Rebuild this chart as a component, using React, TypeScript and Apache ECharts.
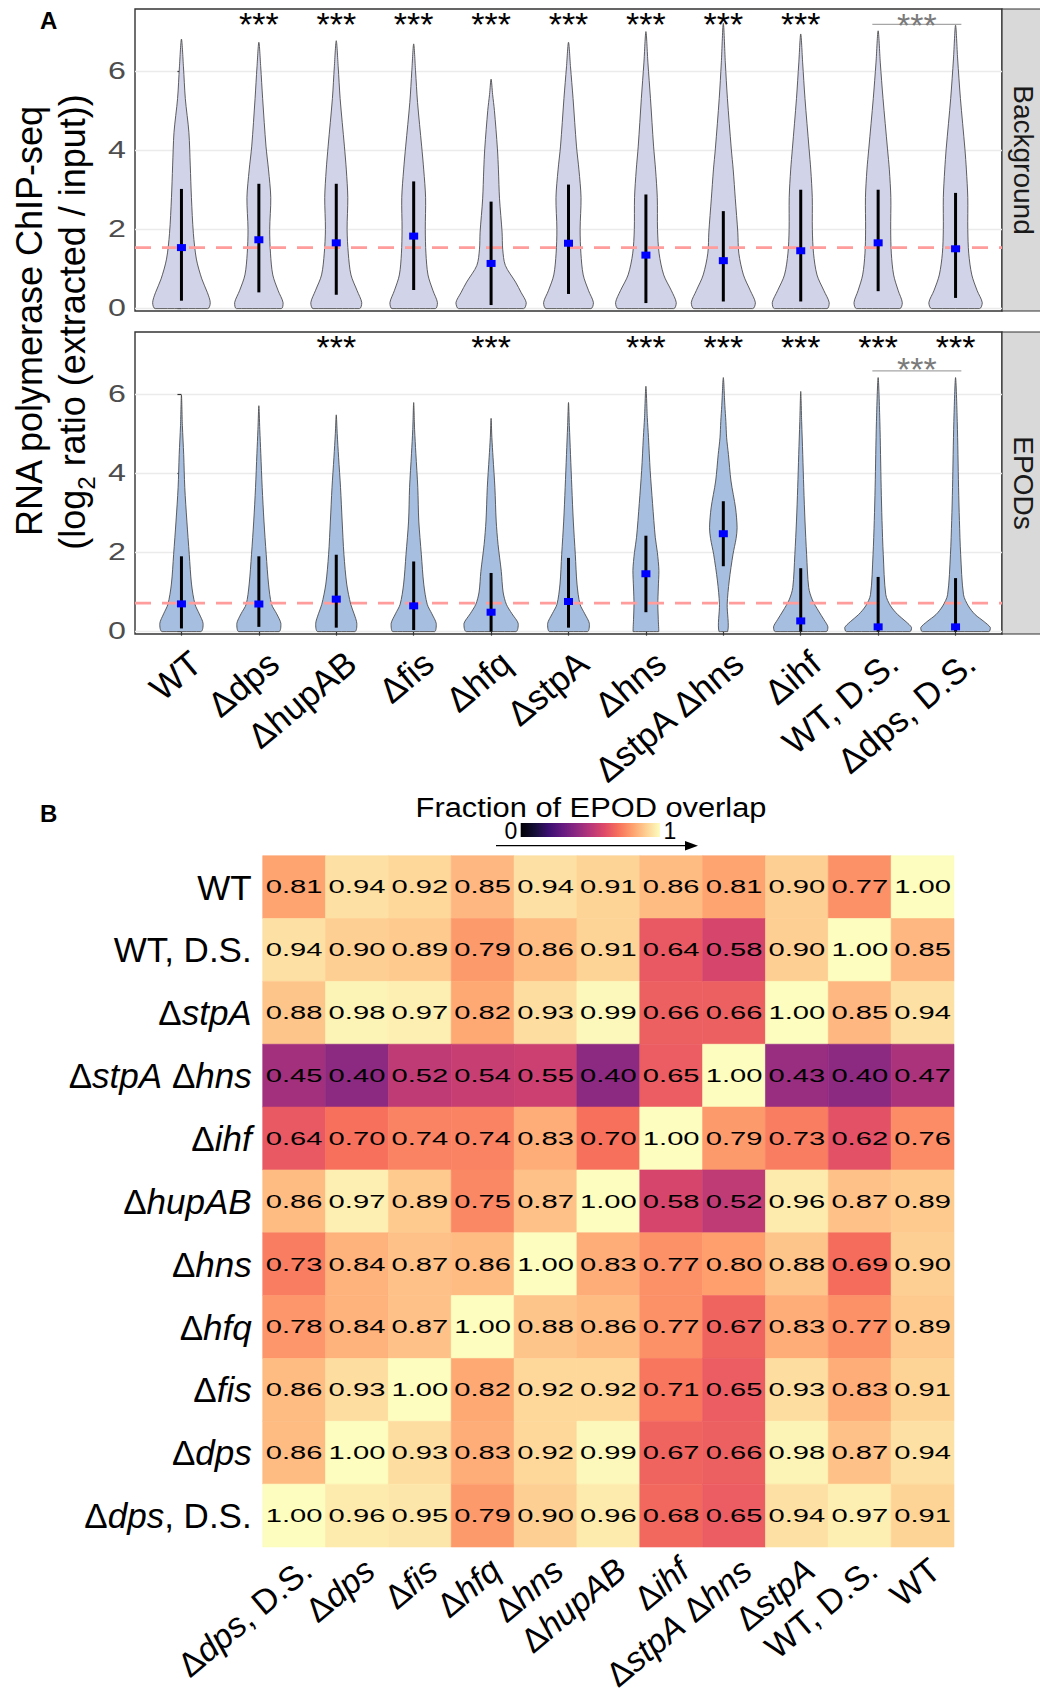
import React, { useEffect, useRef } from 'react';
import * as echarts from 'echarts';

// ---------------- DATA ----------------
const strains = ['WT', 'Δdps', 'ΔhupAB', 'Δfis', 'Δhfq', 'ΔstpA', 'Δhns', 'ΔstpA Δhns', 'Δihf', 'WT, D.S.', 'Δdps, D.S.'];
const facetNames = ['Background', 'EPODs'];
const yTicks = [0, 2, 4, 6];

// violin outlines: [log2 ratio, half width in category units]
const bgViolins = [
  [[0, 0.34], [0.15, 0.372], [0.4, 0.336], [0.75, 0.263], [1.25, 0.193], [1.9, 0.154], [2.8, 0.129], [3.6, 0.114], [4.45, 0.096], [5.3, 0.05], [6.1, 0.026], [6.8, 0]],
  [[0, 0.29], [0.15, 0.313], [0.45, 0.25], [0.85, 0.18], [1.4, 0.15], [2.0, 0.14], [2.8, 0.154], [3.5, 0.125], [4.1, 0.092], [5.3, 0.049], [6.1, 0.024], [6.72, 0]],
  [[0, 0.3], [0.15, 0.329], [0.45, 0.27], [0.85, 0.19], [1.4, 0.155], [2.0, 0.14], [2.8, 0.149], [3.5, 0.13], [4.1, 0.105], [5.3, 0.05], [6.1, 0.025], [6.76, 0]],
  [[0, 0.28], [0.15, 0.307], [0.45, 0.25], [0.85, 0.185], [1.4, 0.158], [2.0, 0.15], [2.8, 0.154], [3.5, 0.13], [4.1, 0.103], [5.2, 0.05], [6.0, 0.024], [6.68, 0]],
  [[0, 0.42], [0.15, 0.454], [0.4, 0.39], [0.67, 0.316], [1.09, 0.184], [1.5, 0.15], [1.93, 0.142], [2.77, 0.109], [3.5, 0.095], [4.03, 0.082], [5.0, 0.043], [5.4, 0.02], [5.79, 0]],
  [[0, 0.29], [0.15, 0.322], [0.45, 0.26], [0.85, 0.19], [1.4, 0.16], [2.0, 0.15], [2.8, 0.162], [3.5, 0.135], [4.1, 0.103], [5.3, 0.059], [6.1, 0.026], [6.72, 0]],
  [[0, 0.36], [0.15, 0.392], [0.45, 0.33], [0.85, 0.23], [1.4, 0.17], [2.0, 0.15], [2.8, 0.147], [3.5, 0.125], [4.1, 0.099], [5.3, 0.059], [6.2, 0.026], [6.99, 0]],
  [[0, 0.38], [0.15, 0.414], [0.45, 0.35], [0.85, 0.26], [1.4, 0.2], [1.93, 0.187], [2.77, 0.155], [3.5, 0.128], [4.03, 0.103], [5.3, 0.053], [6.2, 0.026], [7.2, 0]],
  [[0, 0.34], [0.15, 0.368], [0.45, 0.3], [0.85, 0.21], [1.4, 0.165], [2.0, 0.15], [2.8, 0.149], [3.5, 0.13], [4.03, 0.108], [5.3, 0.055], [6.2, 0.025], [6.93, 0]],
  [[0, 0.28], [0.15, 0.312], [0.45, 0.26], [0.85, 0.2], [1.4, 0.17], [2.0, 0.162], [2.8, 0.164], [3.5, 0.145], [4.03, 0.121], [5.3, 0.063], [6.2, 0.028], [7.01, 0]],
  [[0, 0.31], [0.15, 0.345], [0.45, 0.28], [0.85, 0.21], [1.4, 0.17], [2.0, 0.158], [2.8, 0.158], [3.5, 0.14], [4.03, 0.121], [5.3, 0.063], [6.3, 0.027], [7.15, 0]],
];
const epViolins = [
  [[0, 0.25], [0.2, 0.28], [0.45, 0.23], [0.69, 0.175], [1.2, 0.13], [1.95, 0.101], [2.79, 0.07], [3.64, 0.043], [4.47, 0.029], [5.2, 0.012], [5.97, 0]],
  [[0, 0.26], [0.2, 0.285], [0.45, 0.23], [0.69, 0.164], [1.2, 0.125], [1.95, 0.095], [2.79, 0.066], [3.64, 0.043], [4.5, 0.025], [5.1, 0.012], [5.7, 0]],
  [[0, 0.24], [0.2, 0.266], [0.45, 0.23], [0.69, 0.187], [1.2, 0.135], [1.95, 0.099], [2.79, 0.076], [3.64, 0.055], [4.4, 0.03], [5.0, 0.012], [5.47, 0]],
  [[0, 0.27], [0.2, 0.292], [0.45, 0.235], [0.69, 0.175], [1.2, 0.13], [1.95, 0.099], [2.79, 0.066], [3.64, 0.053], [4.5, 0.028], [5.1, 0.012], [5.78, 0]],
  [[0, 0.32], [0.2, 0.351], [0.45, 0.27], [0.69, 0.197], [1.0, 0.155], [1.52, 0.132], [2.2, 0.09], [2.79, 0.066], [3.64, 0.049], [4.4, 0.025], [4.9, 0.01], [5.38, 0]],
  [[0, 0.245], [0.2, 0.27], [0.45, 0.21], [0.69, 0.149], [1.2, 0.11], [1.95, 0.088], [2.79, 0.062], [3.64, 0.043], [4.47, 0.026], [5.2, 0.011], [5.78, 0]],
  [[0, 0.165], [0.3, 0.16], [0.69, 0.154], [1.1, 0.16], [1.54, 0.168], [2.0, 0.148], [2.38, 0.121], [3.23, 0.086], [4.07, 0.055], [4.9, 0.033], [5.4, 0.018], [6.19, 0]],
  [[0, 0.055], [0.69, 0.05], [1.28, 0.076], [1.95, 0.125], [2.35, 0.165], [2.62, 0.178], [3.12, 0.158], [3.8, 0.099], [4.47, 0.066], [4.89, 0.043], [5.3, 0.033], [5.7, 0.02], [6.41, 0]],
  [[0, 0.33], [0.12, 0.351], [0.3, 0.3], [0.52, 0.23], [0.8, 0.15], [1.11, 0.103], [1.95, 0.076], [2.79, 0.055], [3.64, 0.039], [4.47, 0.026], [5.3, 0.012], [6.06, 0]],
  [[0, 0.41], [0.1, 0.432], [0.25, 0.36], [0.43, 0.253], [0.65, 0.16], [0.93, 0.099], [1.95, 0.066], [2.8, 0.05], [3.64, 0.039], [5.3, 0.022], [6.41, 0]],
  [[0, 0.43], [0.1, 0.45], [0.25, 0.37], [0.43, 0.253], [0.65, 0.165], [0.93, 0.103], [1.95, 0.066], [2.8, 0.05], [3.64, 0.039], [5.3, 0.022], [6.41, 0]],
];

const bgMean = [1.54, 1.74, 1.66, 1.83, 1.14, 1.65, 1.35, 1.21, 1.46, 1.66, 1.51];
const bgHigh = [3.02, 3.15, 3.15, 3.21, 2.70, 3.13, 2.88, 2.46, 3.00, 3.00, 2.92];
const bgLow = [0.20, 0.41, 0.35, 0.47, 0.09, 0.37, 0.14, 0.18, 0.18, 0.44, 0.27];
const epMean = [0.70, 0.70, 0.82, 0.65, 0.49, 0.76, 1.46, 2.47, 0.27, 0.12, 0.12];
const epHigh = [1.90, 1.90, 1.94, 1.77, 1.48, 1.86, 2.42, 3.29, 1.60, 1.38, 1.35];
const epLow = [0.08, 0.12, 0.10, 0.04, 0.0, 0.10, 0.49, 1.65, 0.0, 0.0, 0.0];

const refLines = [1.54, 0.72];
const bgSig = [0, 1, 1, 1, 1, 1, 1, 1, 1, 0, 0];
const epSig = [0, 0, 1, 0, 1, 0, 1, 1, 1, 1, 1];
const sigLevel = 7.18;
const pairIdx = [9, 10];
const pairLineY = [7.17, 6.58];
const pairStarY = [7.16, 6.62];
const sigText = '***';

const heatRows = ['WT', 'WT, D.S.', 'ΔstpA', 'ΔstpA Δhns', 'Δihf', 'ΔhupAB', 'Δhns', 'Δhfq', 'Δfis', 'Δdps', 'Δdps, D.S.'];
const heatCols = ['Δdps, D.S.', 'Δdps', 'Δfis', 'Δhfq', 'Δhns', 'ΔhupAB', 'Δihf', 'ΔstpA Δhns', 'ΔstpA', 'WT, D.S.', 'WT'];
const overlapWT = [0.81, 0.94, 0.92, 0.85, 0.94, 0.91, 0.86, 0.81, 0.90, 0.77, 1.00];
const overlapWTDS = [0.94, 0.90, 0.89, 0.79, 0.86, 0.91, 0.64, 0.58, 0.90, 1.00, 0.85];
const overlapStpA = [0.88, 0.98, 0.97, 0.82, 0.93, 0.99, 0.66, 0.66, 1.00, 0.85, 0.94];
const overlapStpAHns = [0.45, 0.40, 0.52, 0.54, 0.55, 0.40, 0.65, 1.00, 0.43, 0.40, 0.47];
const overlapIhf = [0.64, 0.70, 0.74, 0.74, 0.83, 0.70, 1.00, 0.79, 0.73, 0.62, 0.76];
const overlapHupAB = [0.86, 0.97, 0.89, 0.75, 0.87, 1.00, 0.58, 0.52, 0.96, 0.87, 0.89];
const overlapHns = [0.73, 0.84, 0.87, 0.86, 1.00, 0.83, 0.77, 0.80, 0.88, 0.69, 0.90];
const overlapHfq = [0.78, 0.84, 0.87, 1.00, 0.88, 0.86, 0.77, 0.67, 0.83, 0.77, 0.89];
const overlapFis = [0.86, 0.93, 1.00, 0.82, 0.92, 0.92, 0.71, 0.65, 0.93, 0.83, 0.91];
const overlapDps = [0.86, 1.00, 0.93, 0.83, 0.92, 0.99, 0.67, 0.66, 0.98, 0.87, 0.94];
const overlapDpsDS = [1.00, 0.96, 0.95, 0.79, 0.90, 0.96, 0.68, 0.65, 0.94, 0.97, 0.91];
const overlap = [overlapWT, overlapWTDS, overlapStpA, overlapStpAHns, overlapIhf, overlapHupAB, overlapHns, overlapHfq, overlapFis, overlapDps, overlapDpsDS];
const colorbarLabels = ['0', '1'];

// ---------------- HELPERS ----------------
const FONT = "'Liberation Sans', Arial, Helvetica, sans-serif";
const MAGMA = ['#000004', '#140E36', '#3B0F70', '#641A80', '#8C2981', '#B73779', '#DE4968', '#F7705C', '#FE9F6D', '#FECF92', '#FCFDBF'];
// shift (in axis units) of the rotated labels' anchor so that their ends sit right of the tick, as in ggplot hjust=1
const LABEL_SHIFT_A = 0.19;
const LABEL_SHIFT_B = 0.2;

function hexToRgb(h: string) {
  return [parseInt(h.slice(1, 3), 16), parseInt(h.slice(3, 5), 16), parseInt(h.slice(5, 7), 16)];
}
function magma(t: number) {
  const x = Math.max(0, Math.min(1, t)) * 10;
  const i = Math.min(9, Math.floor(x));
  const f = x - i;
  const a = hexToRgb(MAGMA[i]);
  const b = hexToRgb(MAGMA[i + 1]);
  const c = a.map((v, k) => Math.round(v + (b[k] - v) * f));
  return `rgb(${c[0]},${c[1]},${c[2]})`;
}
const richName = (s: string) => s.replace(/Δ([A-Za-z]+)/g, '{d|Δ}{i|$1}');
const labelRich = (fs: number) => ({
  d: { fontSize: fs, fontFamily: FONT, color: '#000', fontStyle: 'normal' },
  i: { fontSize: fs, fontFamily: FONT, color: '#000', fontStyle: 'italic' },
});

function violinSeries(gridIdx: number, profiles: number[][][], fill: string) {
  return {
    type: 'custom',
    xAxisIndex: gridIdx,
    yAxisIndex: gridIdx,
    z: 2,
    data: profiles.map((_, i) => [i, 0]),
    encode: { x: 0, y: 1 },
    renderItem: (params: any, api: any) => {
      const i = api.value(0);
      const prof = profiles[i];
      const right = prof.map(([y, w]) => api.coord([i + w, y]));
      const left = prof.slice(0, -1).reverse().map(([y, w]) => api.coord([i - w, y]));
      const pts = right.concat(left);
      let minX = Infinity, minY = Infinity, maxX = -Infinity, maxY = -Infinity;
      pts.forEach((p: number[]) => {
        minX = Math.min(minX, p[0]); maxX = Math.max(maxX, p[0]);
        minY = Math.min(minY, p[1]); maxY = Math.max(maxY, p[1]);
      });
      return {
        type: 'polygon',
        shape: { points: pts, smooth: 0.3, smoothConstraint: [[minX, minY], [maxX, maxY]] },
        style: { fill, stroke: '#4D4D4D', lineWidth: 0.9 },
      };
    },
  };
}

function yTickLabelSeries(gridIdx: number) {
  return {
    type: 'custom',
    xAxisIndex: gridIdx,
    yAxisIndex: gridIdx,
    z: 5,
    data: yTicks.map((v) => [-0.6, v]),
    encode: { x: 0, y: 1 },
    renderItem: (params: any, api: any) => {
      const p = api.coord([api.value(0), api.value(1)]);
      return {
        type: 'text',
        x: p[0] - 9,
        y: p[1],
        scaleX: 1.4,
        style: { text: String(api.value(1)), fontSize: 23, fontFamily: FONT, fill: '#4D4D4D', align: 'right', verticalAlign: 'middle' },
      };
    },
  };
}

function refSeries(gridIdx: number, v: number) {
  return {
    type: 'custom',
    xAxisIndex: gridIdx,
    yAxisIndex: gridIdx,
    z: 3,
    data: [[0, v]],
    encode: { x: 0, y: 1 },
    renderItem: (params: any, api: any) => {
      const a = api.coord([-0.6, api.value(1)]);
      const b = api.coord([10.6, api.value(1)]);
      return {
        type: 'line',
        shape: { x1: a[0], y1: a[1], x2: b[0], y2: b[1] },
        style: { stroke: '#FF9C9C', lineWidth: 2.6, lineDash: [16, 11] },
      };
    },
  };
}

function summarySeries(gridIdx: number, mean: number[], lo: number[], hi: number[]) {
  return {
    type: 'custom',
    xAxisIndex: gridIdx,
    yAxisIndex: gridIdx,
    z: 4,
    data: mean.map((m, i) => [i, m, lo[i], hi[i]]),
    encode: { x: 0, y: 1 },
    renderItem: (params: any, api: any) => {
      const i = api.value(0);
      const m = api.coord([i, api.value(1)]);
      const b = api.coord([i, api.value(2)]);
      const t = api.coord([i, api.value(3)]);
      return {
        type: 'group',
        children: [
          { type: 'line', shape: { x1: t[0], y1: t[1], x2: b[0], y2: b[1] }, style: { stroke: '#000', lineWidth: 3 } },
          { type: 'rect', shape: { x: m[0] - 4.5, y: m[1] - 3.5, width: 9, height: 7 }, style: { fill: '#0000FF' } },
        ],
      };
    },
  };
}

function starSeries(gridIdx: number, sig: number[]) {
  return {
    type: 'custom',
    xAxisIndex: gridIdx,
    yAxisIndex: gridIdx,
    z: 5,
    data: sig.map((s, i) => [i, sigLevel, s]).filter((d) => d[2] === 1),
    encode: { x: 0, y: 1 },
    renderItem: (params: any, api: any) => {
      const p = api.coord([api.value(0), api.value(1)]);
      return {
        type: 'text',
        x: p[0],
        y: p[1],
        style: { text: sigText, fontSize: 34, fontFamily: FONT, fill: '#000', align: 'center', verticalAlign: 'middle' },
      };
    },
  };
}

function pairSeries(gridIdx: number) {
  return {
    type: 'custom',
    xAxisIndex: gridIdx,
    yAxisIndex: gridIdx,
    z: 5,
    data: [[pairIdx[0], pairLineY[gridIdx], pairIdx[1], pairStarY[gridIdx]]],
    encode: { x: 0, y: 1 },
    renderItem: (params: any, api: any) => {
      const a = api.coord([api.value(0) - 0.075, api.value(1)]);
      const b = api.coord([api.value(2) + 0.075, api.value(1)]);
      const s = api.coord([(api.value(0) + api.value(2)) / 2, api.value(3)]);
      return {
        type: 'group',
        children: [
          { type: 'line', shape: { x1: a[0], y1: a[1], x2: b[0], y2: b[1] }, style: { stroke: '#A6A6A6', lineWidth: 1.2 } },
          { type: 'text', x: s[0], y: s[1], style: { text: sigText, fontSize: 34, fontFamily: FONT, fill: '#7A7A7A', align: 'center', verticalAlign: 'middle' } },
        ],
      };
    },
  };
}

function buildOption() {
  const idx = strains.map((_, i) => i);
  const PL = 135, PW = 867, PH = 302;
  const violinGrid = (top: number) => ({
    left: PL, top, width: PW, height: PH, show: true, borderColor: '#333333', borderWidth: 1.4,
    backgroundColor: 'transparent', containLabel: false, outerBoundsMode: 'none',
  });
  const yValueAxis = (gridIndex: number) => ({
    gridIndex,
    type: 'value',
    min: -0.06,
    max: 7.56,
    axisLine: { show: false },
    axisTick: { show: true, customValues: yTicks, length: 4, lineStyle: { color: '#333333', width: 1.2 } },
    axisLabel: { show: false, customValues: yTicks },
    splitLine: { show: true, lineStyle: { color: '#EBEBEB', width: 1.4 } },
  });
  const heatData: number[][] = [];
  overlap.forEach((row, r) => row.forEach((v, c) => heatData.push([c, r, v])));

  const stripG = (top: number, name: string) => [
    { type: 'rect', shape: { x: PL + PW, y: top, width: 60, height: PH }, style: { fill: '#D9D9D9', stroke: '#333333', lineWidth: 1.2 } },
    {
      type: 'text', x: 1023, y: top + PH / 2, rotation: -Math.PI / 2,
      style: { text: name, fontSize: 28, fontFamily: FONT, fill: '#1A1A1A', align: 'center', verticalAlign: 'middle' },
    },
  ];

  return {
    animation: false,
    backgroundColor: '#ffffff',
    grid: [
      violinGrid(9),
      violinGrid(332),
      { left: 262.7, top: 855.7, width: 691.3, height: 691.3, show: false, containLabel: false, outerBoundsMode: 'none' },
    ],
    xAxis: [
      { gridIndex: 0, type: 'value', min: -0.6, max: 10.6, axisLine: { show: false }, axisTick: { show: false }, axisLabel: { show: false }, splitLine: { show: false } },
      {
        gridIndex: 1, type: 'value', min: -0.6, max: 10.6,
        axisLine: { show: false },
        axisTick: { show: true, customValues: idx, length: 4, lineStyle: { color: '#333333', width: 1.2 } },
        axisLabel: {
          customValues: idx.map((i) => i + LABEL_SHIFT_A),
          formatter: (v: number) => strains[Math.round(v - LABEL_SHIFT_A)],
          rotate: 40, margin: 24, fontSize: 35, fontFamily: FONT, color: '#000',
        },
        splitLine: { show: false },
      },
      {
        gridIndex: 2, type: 'value', min: -0.5, max: 10.5,
        axisLine: { show: false }, axisTick: { show: false }, splitLine: { show: false },
        axisLabel: {
          customValues: heatCols.map((_, i) => i + LABEL_SHIFT_B),
          formatter: (v: number) => richName(heatCols[Math.round(v - LABEL_SHIFT_B)]),
          rotate: 40, margin: 18, fontSize: 34, fontFamily: FONT, color: '#000', rich: labelRich(34),
        },
      },
    ],
    yAxis: [
      yValueAxis(0),
      yValueAxis(1),
      {
        gridIndex: 2, type: 'category', data: heatRows, inverse: true,
        axisLine: { show: false }, axisTick: { show: false },
        axisLabel: { interval: 0, margin: 11, fontSize: 35, fontFamily: FONT, color: '#000', formatter: (v: string) => richName(v), rich: labelRich(35) },
      },
    ],
    series: [
      violinSeries(0, bgViolins, '#D1D3E9'),
      violinSeries(1, epViolins, '#A6BEE0'),
      refSeries(0, refLines[0]),
      refSeries(1, refLines[1]),
      summarySeries(0, bgMean, bgLow, bgHigh),
      summarySeries(1, epMean, epLow, epHigh),
      starSeries(0, bgSig),
      starSeries(1, epSig),
      pairSeries(0),
      pairSeries(1),
      yTickLabelSeries(0),
      yTickLabelSeries(1),
      {
        type: 'custom',
        xAxisIndex: 2,
        yAxisIndex: 2,
        data: heatData,
        encode: { x: 0, y: 1 },
        renderItem: (params: any, api: any) => {
          const p = api.coord([api.value(0), api.value(1)]);
          const s = api.size([1, 1]);
          const v = api.value(2);
          const col = magma(v);
          return {
            type: 'group',
            children: [
              { type: 'rect', shape: { x: p[0] - s[0] / 2, y: p[1] - s[1] / 2, width: s[0], height: s[1] }, style: { fill: col, stroke: col, lineWidth: 0.6 } },
              {
                type: 'text', x: p[0], y: p[1], scaleX: 1.62,
                style: { text: v.toFixed(2), fontSize: 18, fontFamily: FONT, fill: '#000', align: 'center', verticalAlign: 'middle' },
              },
            ],
          };
        },
      },
    ],
    graphic: [
      { type: 'text', x: 40, y: 20, style: { text: 'A', fontSize: 24, fontWeight: 'bold', fontFamily: FONT, fill: '#000', align: 'left', verticalAlign: 'middle' } },
      { type: 'text', x: 40, y: 813.5, style: { text: 'B', fontSize: 24, fontWeight: 'bold', fontFamily: FONT, fill: '#000', align: 'left', verticalAlign: 'middle' } },
      {
        type: 'text', x: 29.5, y: 321, rotation: Math.PI / 2,
        style: { text: 'RNA polymerase ChIP-seq', fontSize: 36, fontFamily: FONT, fill: '#000', align: 'center', verticalAlign: 'middle' },
      },
      {
        type: 'text', x: 72.5, y: 322, rotation: Math.PI / 2,
        style: {
          text: '(log{s|2} ratio (extracted / input))', fontSize: 36, fontFamily: FONT, fill: '#000', align: 'center', verticalAlign: 'middle',
          rich: { s: { fontSize: 24, fontFamily: FONT, fill: '#000', verticalAlign: 'bottom', lineHeight: 52 } },
        },
      },
      ...stripG(9, facetNames[0]),
      ...stripG(332, facetNames[1]),
      {
        type: 'text', x: 591, y: 807, scaleX: 1.1,
        style: { text: 'Fraction of EPOD overlap', fontSize: 28, fontFamily: FONT, fill: '#000', align: 'center', verticalAlign: 'middle' },
      },
      {
        type: 'rect', shape: { x: 520.7, y: 823, width: 139.3, height: 14 },
        style: {
          fill: {
            type: 'linear', x: 0, y: 0, x2: 1, y2: 0,
            colorStops: MAGMA.map((c, k) => ({ offset: k / 10, color: c })),
          },
        },
      },
      { type: 'text', x: 511, y: 831, style: { text: colorbarLabels[0], fontSize: 23, fontFamily: FONT, fill: '#000', align: 'center', verticalAlign: 'middle' } },
      { type: 'text', x: 670, y: 831, style: { text: colorbarLabels[1], fontSize: 23, fontFamily: FONT, fill: '#000', align: 'center', verticalAlign: 'middle' } },
      { type: 'line', shape: { x1: 496, y1: 845.7, x2: 690, y2: 845.7 }, style: { stroke: '#000', lineWidth: 1.3 } },
      { type: 'polygon', shape: { points: [[698, 845.7], [685, 841], [685, 850.4]] }, style: { fill: '#000' } },
    ],
  };
}

export default function App() {
  const ref = useRef<HTMLDivElement>(null);
  useEffect(() => {
    const chart = echarts.init(ref.current as HTMLDivElement, null, { renderer: 'svg' });
    chart.setOption(buildOption() as any);
    return () => chart.dispose();
  }, []);
  return <div ref={ref} style={{ position: 'absolute', left: 0, top: 0, width: 1040, height: 1694, background: '#fff' }} />;
}
